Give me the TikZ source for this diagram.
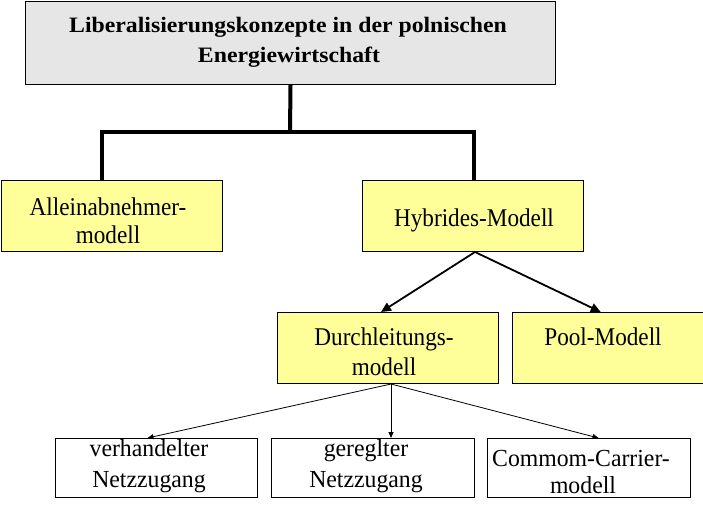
\documentclass[tikz,border=0pt]{standalone}
\usepackage{graphicx}
\usepackage{fontspec}
\setmainfont{Liberation Serif}
\usetikzlibrary{arrows.meta}
\definecolor{yelfill}{RGB}{255,255,153}
\definecolor{topgray}{RGB}{230,230,230}
\newcommand{\ttltext}[1]{\scalebox{1.08}[1]{#1}}
\newcommand{\ytext}[1]{\scalebox{0.91}[1]{#1}}
\newcommand{\wtext}[1]{\scalebox{0.97}[1]{#1}}
\begin{document}
\begin{tikzpicture}[x=1pt,y=-1pt,
  box/.style={draw=black, line width=1pt, anchor=north west, inner sep=0pt},
  ybox/.style={box, fill=yelfill, minimum height=71pt},
  wbox/.style={box, fill=white, minimum height=59pt, minimum width=203pt},
  txt/.style={anchor=base, inner sep=0pt, font=\fontsize{25.5}{29}\selectfont},
  wtxt/.style={anchor=base, inner sep=0pt, font=\fontsize{24.5}{29}\selectfont},
  ttl/.style={anchor=base, inner sep=0pt, font=\fontsize{22}{29}\selectfont\bfseries},
  bus/.style={line width=4pt},
  marrow/.style={line width=1.8pt, -{Triangle[length=10pt,width=9pt]}},
  tarrow/.style={line width=0.8pt, -{Triangle[length=6pt,width=5pt]}}]
\useasboundingbox (0,0) rectangle (703,504);
% boxes
\node[box, fill=topgray, minimum width=530pt, minimum height=83pt] (top) at (25,1) {};
\node[ybox, minimum width=221.5pt] (alle) at (0.5,180) {};
\node[ybox, minimum width=221pt] (hyb) at (362,180) {};
\node[ybox, minimum width=221pt] (durch) at (277,312) {};
\node[ybox, minimum width=190.5pt] (pool) at (512,312) {};
\node[wbox, minimum width=202pt] (verh) at (55,438) {};
\node[wbox] (geregelt) at (271,438) {};
\node[wbox] (comm) at (487,438) {};
% texts
\node[ttl] (t1) at (288,32) {\ttltext{Liberalisierungskonzepte in der polnischen}};
\node[ttl] (t2) at (289,62) {\ttltext{Energiewirtschaft}};
\node[txt] (a1) at (108,215) {\ytext{Alleinabnehmer-}};
\node[txt] (a2) at (108,243) {\ytext{modell}};
\node[txt] (h1) at (474,226) {\ytext{Hybrides-Modell}};
\node[txt] (d1) at (384,345) {\ytext{Durchleitungs-}};
\node[txt] (d2) at (384,375) {\ytext{modell}};
\node[txt] (p1) at (603,345) {\ytext{Pool-Modell}};
\node[wtxt] (v1) at (149,456) {\wtext{verhandelter}};
\node[wtxt] (v2) at (149,487) {\wtext{Netzzugang}};
\node[wtxt] (g1) at (366,456) {\wtext{gereglter}};
\node[wtxt] (g2) at (366,487) {\wtext{Netzzugang}};
\node[wtxt] (c1) at (581,466) {\wtext{Commom-Carrier-}};
\node[wtxt] (c2) at (583,493) {\wtext{modell}};
% bus connectors
\coordinate (jn) at (290,132);
\coordinate (jl) at (102,132);
\coordinate (jr) at (474,132);
\draw[bus] (top.south) -- (jn);
\draw[bus] (alle.north -| jl) -- (jl) -- (jr) -- (hyb.north -| jr);
% arrows
\draw[marrow] ([xshift=2pt]hyb.south) -- ([xshift=-7pt]durch.north);
\draw[marrow] ([xshift=2pt]hyb.south) -- ([xshift=-7pt]pool.north);
\draw[tarrow] ([xshift=3pt]durch.south) -- ([xshift=-9pt]verh.north);
\draw[tarrow] ([xshift=3pt]durch.south) -- ([xshift=18pt]geregelt.north);
\draw[tarrow] ([xshift=3pt]durch.south) -- ([xshift=9.5pt]comm.north);
\end{tikzpicture}
\end{document}
